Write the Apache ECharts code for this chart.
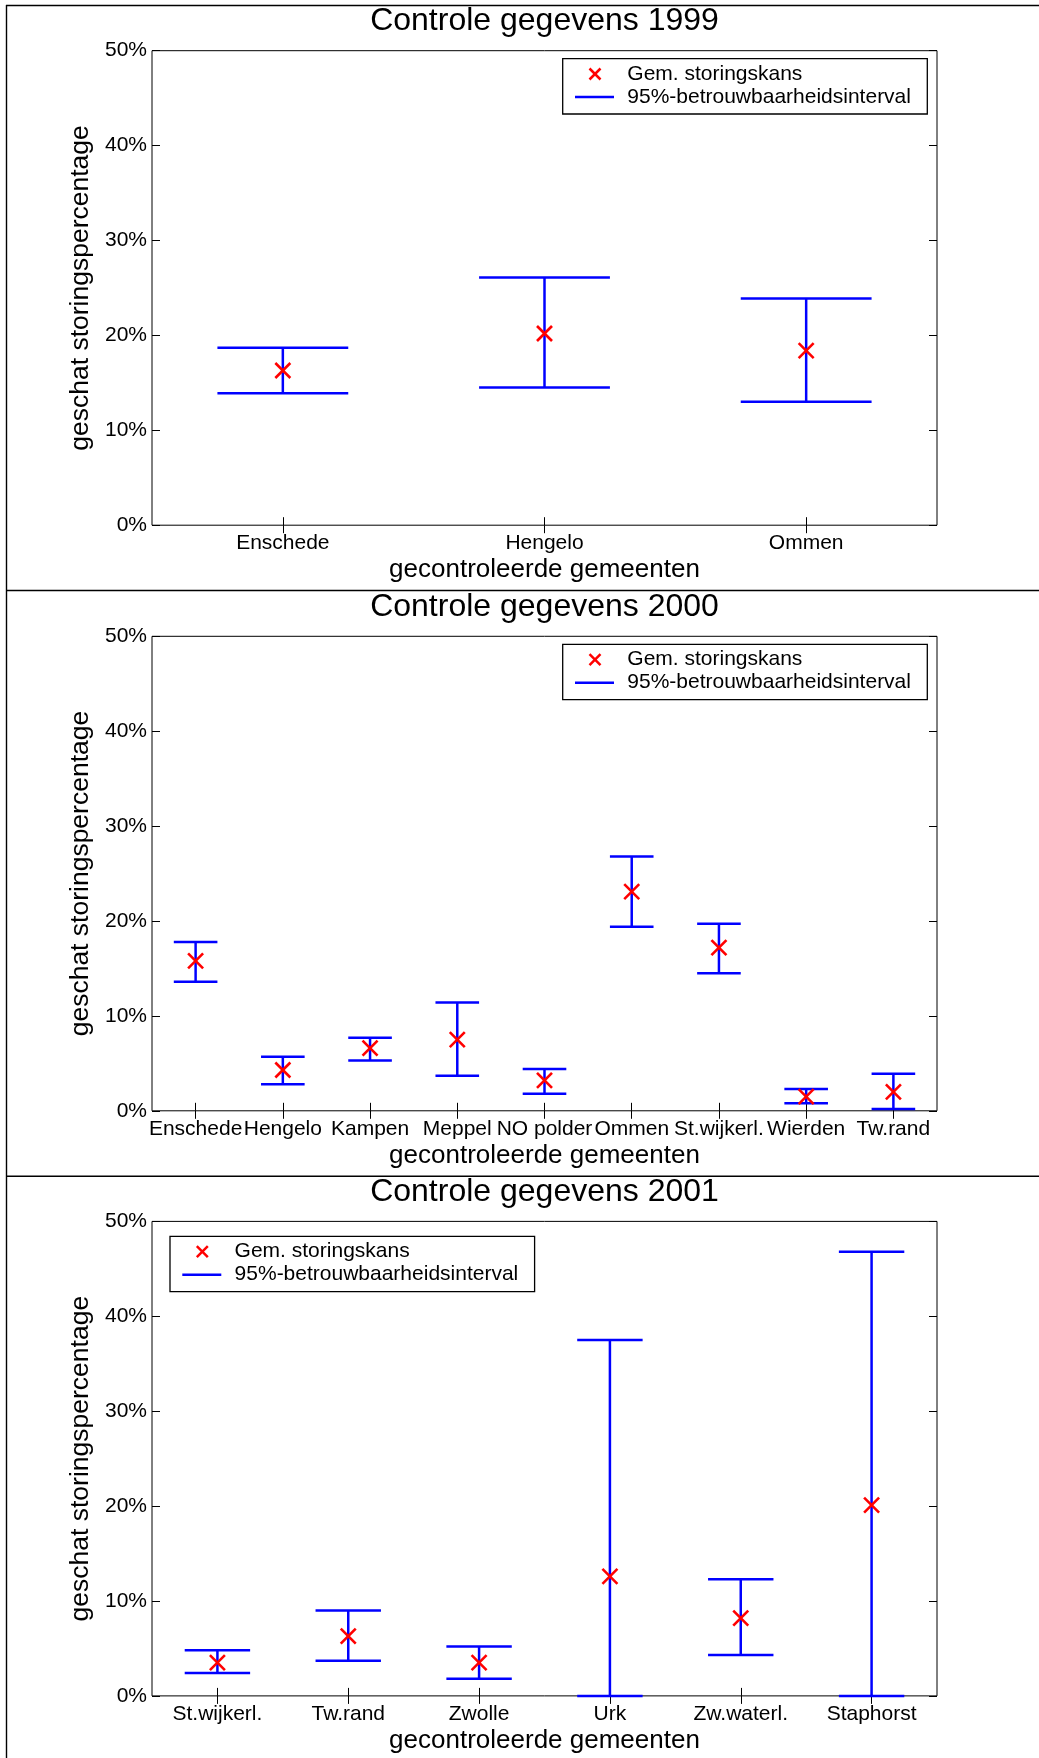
<!DOCTYPE html>
<html>
<head>
<meta charset="utf-8">
<script src="https://cdn.jsdelivr.net/npm/echarts@6/dist/echarts.min.js"></script>
<style>
  html, body { margin: 0; padding: 0; background: #fff; }
  #chart { width: 1039px; height: 1758px; }
</style>
</head>
<body>
<div id="chart"></div>
<script>
// gegevens per jaar (percentages)
var years = ['1999', '2000', '2001']

var cat1999 = ['Enschede', 'Hengelo', 'Ommen']
var mean1999 = [16.3, 20.2, 18.4]
var low1999 = [13.9, 14.5, 13.0]
var high1999 = [18.7, 26.1, 23.9]

var cat2000 = ['Enschede', 'Hengelo', 'Kampen', 'Meppel', 'NO polder', 'Ommen', 'St.wijkerl.', 'Wierden', 'Tw.rand']
var mean2000 = [15.8, 4.3, 6.6, 7.5, 3.2, 23.1, 17.2, 1.5, 2.0]
var low2000 = [13.6, 2.8, 5.3, 3.7, 1.8, 19.4, 14.5, 0.8, 0.2]
var high2000 = [17.8, 5.7, 7.7, 11.4, 4.4, 26.8, 19.7, 2.3, 3.9]

var cat2001 = ['St.wijkerl.', 'Tw.rand', 'Zwolle', 'Urk', 'Zw.waterl.', 'Staphorst']
var mean2001 = [3.5, 6.3, 3.5, 12.6, 8.2, 20.1]
var low2001 = [2.4, 3.7, 1.8, 0, 4.3, 0]
var high2001 = [4.8, 9.0, 5.2, 37.5, 12.3, 46.8]

var yTicks = [0, 10, 20, 30, 40, 50]

var legendNames = ['Gem. storingskans', '95%-betrouwbaarheidsinterval']

var panels = [
    { cats: cat1999, mean: mean1999, low: low1999, high: high1999 },
    { cats: cat2000, mean: mean2000, low: low2000, high: high2000 },
    { cats: cat2001, mean: mean2001, low: low2001, high: high2001 }
]

var FONT = '"Liberation Sans", Arial, Helvetica, sans-serif'
var BLUE = '#0000ff'
var RED = '#ff0000'

// layout
var gridLeft = 152, gridWidth = 785, gridHeight = 474.5
var gridTops = [50.7, 636.3, 1221.4]
var titleCenters = [21.5, 607, 1192.5]
var legendBoxes = [[562.7, 58.6], [562.7, 644.3], [170, 1236.3]]

var chart = echarts.init(document.getElementById('chart'), null, { renderer: 'canvas' })

function renderBar(params, api) {
    var x = api.value(0)
    var top = api.coord([x, api.value(2)])
    var bot = api.coord([x, api.value(1)])
    var half = api.size([1, 0])[0] * 0.25
    var style = { stroke: BLUE, lineWidth: 2.5 }
    return {
        type: 'group',
        children: [
            { type: 'line', shape: { x1: top[0], y1: top[1], x2: bot[0], y2: bot[1] }, style: style },
            { type: 'line', shape: { x1: top[0] - half, y1: top[1], x2: top[0] + half, y2: top[1] }, style: style },
            { type: 'line', shape: { x1: bot[0] - half, y1: bot[1], x2: bot[0] + half, y2: bot[1] }, style: style }
        ]
    }
}

function renderCross(params, api) {
    var p = api.coord([api.value(0), api.value(1)])
    var s = 7.5
    var style = { stroke: RED, lineWidth: 2.6 }
    return {
        type: 'group',
        children: [
            { type: 'line', shape: { x1: p[0] - s, y1: p[1] - s, x2: p[0] + s, y2: p[1] + s }, style: style },
            { type: 'line', shape: { x1: p[0] - s, y1: p[1] + s, x2: p[0] + s, y2: p[1] - s }, style: style }
        ]
    }
}

var grids = [], xAxes = [], yAxes = [], series = [], titles = [], graphics = []

panels.forEach(function(panel, i) {
    grids.push({
        left: gridLeft, top: gridTops[i], width: gridWidth, height: gridHeight,
        show: true, borderColor: '#000', borderWidth: 1, backgroundColor: 'transparent'
    })

    var tickStyle = { show: true, inside: true, length: 8, alignWithLabel: true, lineStyle: { color: '#000', width: 1 } }

    xAxes.push({
        type: 'category', gridIndex: i, position: 'bottom', data: panel.cats, boundaryGap: true,
        axisLine: { show: false },
        axisTick: tickStyle,
        axisLabel: { interval: 0, margin: 8, color: '#000', fontFamily: FONT, fontSize: 21 },
        name: 'gecontroleerde gemeenten', nameLocation: 'middle', nameGap: 32,
        nameTextStyle: { color: '#000', fontFamily: FONT, fontSize: 26 },
        splitLine: { show: false }
    })
    xAxes.push({
        type: 'category', gridIndex: i, position: 'top', data: panel.cats, boundaryGap: true,
        axisLine: { show: false }, axisTick: tickStyle, axisLabel: { show: false }, splitLine: { show: false }
    })

    var yTick = { show: true, inside: true, length: 8, lineStyle: { color: '#000', width: 1 } }
    yAxes.push({
        type: 'value', gridIndex: i, position: 'left', min: yTicks[0], max: yTicks[yTicks.length - 1], interval: 10,
        axisLine: { show: false }, axisTick: yTick, splitLine: { show: false },
        axisLabel: { margin: 5, color: '#000', fontFamily: FONT, fontSize: 21, formatter: '{value}%' },
        name: 'geschat storingspercentage', nameLocation: 'middle', nameGap: 56,
        nameTextStyle: { color: '#000', fontFamily: FONT, fontSize: 26.5 }
    })
    yAxes.push({
        type: 'value', gridIndex: i, position: 'right', min: yTicks[0], max: yTicks[yTicks.length - 1], interval: 10,
        axisLine: { show: false }, axisTick: yTick, axisLabel: { show: false }, splitLine: { show: false }
    })

    series.push({
        type: 'custom', name: legendNames[1], xAxisIndex: 2 * i, yAxisIndex: 2 * i,
        renderItem: renderBar, encode: { x: 0, y: [1, 2] }, clip: false, z: 2,
        data: panel.cats.map(function(c, k) { return [k, panel.low[k], panel.high[k]] })
    })
    series.push({
        type: 'custom', name: legendNames[0], xAxisIndex: 2 * i, yAxisIndex: 2 * i,
        renderItem: renderCross, encode: { x: 0, y: 1 }, clip: false, z: 3,
        data: panel.cats.map(function(c, k) { return [k, panel.mean[k]] })
    })

    titles.push({
        text: 'Controle gegevens ' + years[i],
        left: gridLeft + gridWidth / 2, top: titleCenters[i] - 16, textAlign: 'center', padding: 0,
        textStyle: { color: '#000', fontFamily: FONT, fontSize: 32, fontWeight: 'normal' }
    })

    // legenda
    var lx = legendBoxes[i][0], ly = legendBoxes[i][1]
    graphics.push({
        type: 'group', x: lx, y: ly, z: 10,
        children: [
            { type: 'rect', shape: { x: 0, y: 0, width: 364.6, height: 55.4 }, style: { fill: '#fff', stroke: '#000', lineWidth: 1.3 } },
            { type: 'line', shape: { x1: 32.3 - 5.5, y1: 15.4 - 5.5, x2: 32.3 + 5.5, y2: 15.4 + 5.5 }, style: { stroke: RED, lineWidth: 2.5 } },
            { type: 'line', shape: { x1: 32.3 - 5.5, y1: 15.4 + 5.5, x2: 32.3 + 5.5, y2: 15.4 - 5.5 }, style: { stroke: RED, lineWidth: 2.5 } },
            { type: 'text', x: 64.6, y: 15.4, style: { text: legendNames[0], fill: '#000', font: '21px ' + FONT, textVerticalAlign: 'middle' } },
            { type: 'line', shape: { x1: 12.3, y1: 38.4, x2: 51.3, y2: 38.4 }, style: { stroke: BLUE, lineWidth: 2.5 } },
            { type: 'text', x: 64.6, y: 38.4, style: { text: legendNames[1], fill: '#000', font: '21px ' + FONT, textVerticalAlign: 'middle' } }
        ]
    })
})

// kaderlijnen van de pagina
var frameStyle = { stroke: '#000', lineWidth: 1.4 }
graphics.push({ type: 'line', shape: { x1: 6, y1: 5.5, x2: 1039, y2: 5.5 }, style: frameStyle })
graphics.push({ type: 'line', shape: { x1: 6.5, y1: 5, x2: 6.5, y2: 1758 }, style: frameStyle })
graphics.push({ type: 'line', shape: { x1: 6, y1: 590.5, x2: 1039, y2: 590.5 }, style: frameStyle })
graphics.push({ type: 'line', shape: { x1: 6, y1: 1176.3, x2: 1039, y2: 1176.3 }, style: frameStyle })

chart.setOption({
    animation: false,
    backgroundColor: '#fff',
    title: titles,
    grid: grids,
    xAxis: xAxes,
    yAxis: yAxes,
    series: series,
    graphic: graphics
})
</script>
</body>
</html>
